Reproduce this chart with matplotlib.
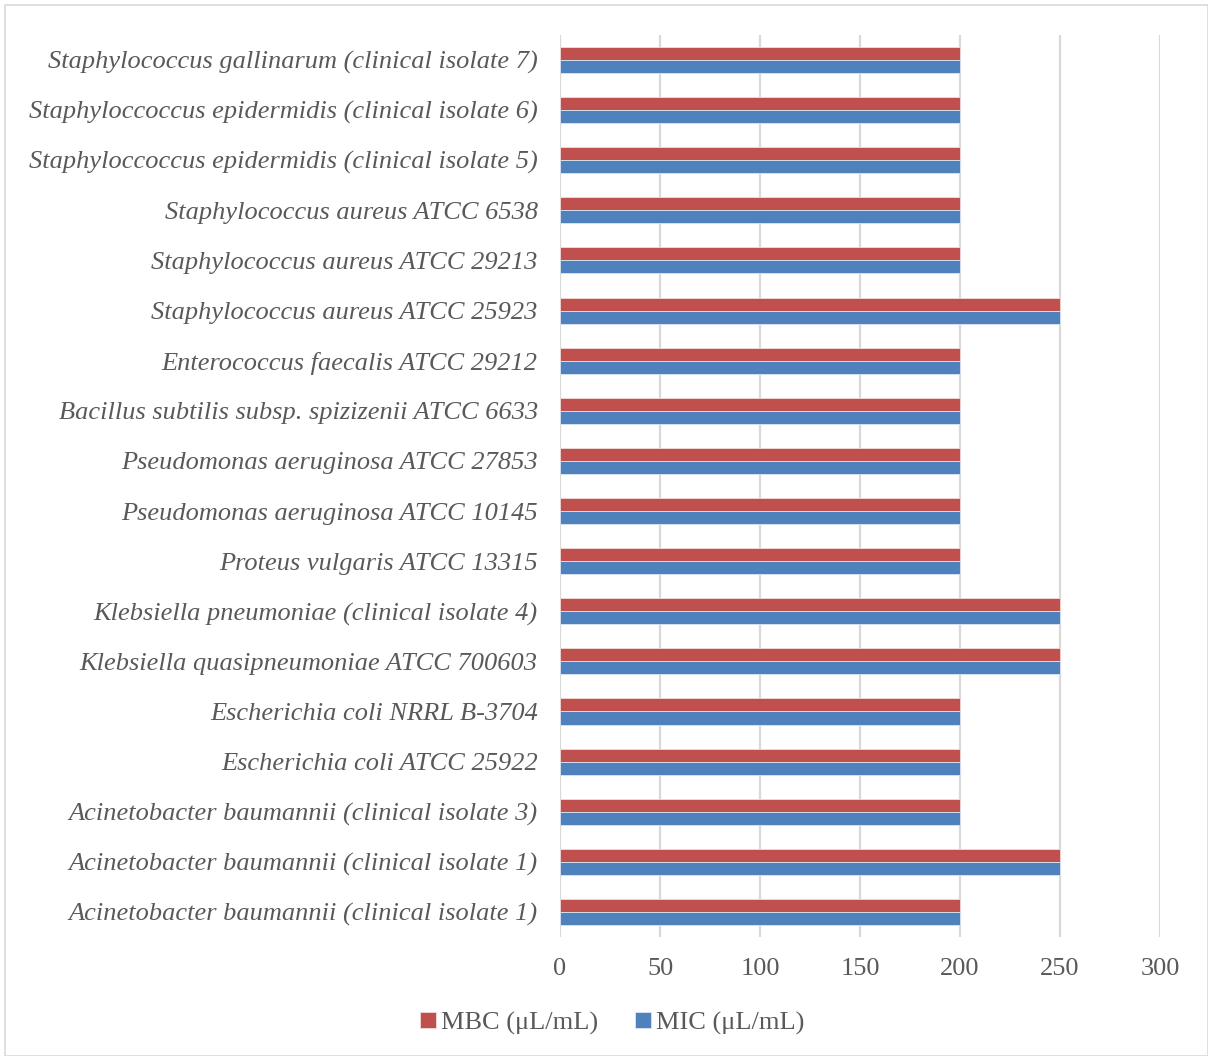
import numpy as np
import matplotlib.pyplot as plt
from matplotlib.patches import Rectangle

# Categories listed bottom to top, as drawn on the y axis
strains = [
    'Acinetobacter baumannii (clinical isolate 1)',
    'Acinetobacter baumannii (clinical isolate 1)',
    'Acinetobacter baumannii (clinical isolate 3)',
    'Escherichia coli ATCC 25922',
    'Escherichia coli NRRL B-3704',
    'Klebsiella quasipneumoniae ATCC 700603',
    'Klebsiella pneumoniae (clinical isolate 4)',
    'Proteus vulgaris ATCC 13315',
    'Pseudomonas aeruginosa ATCC 10145',
    'Pseudomonas aeruginosa ATCC 27853',
    'Bacillus subtilis subsp. spizizenii ATCC 6633',
    'Enterococcus faecalis ATCC 29212',
    'Staphylococcus aureus ATCC 25923',
    'Staphylococcus aureus ATCC 29213',
    'Staphylococcus aureus ATCC 6538',
    'Staphyloccoccus epidermidis (clinical isolate 5)',
    'Staphyloccoccus epidermidis (clinical isolate 6)',
    'Staphylococcus gallinarum (clinical isolate 7)',
]
mic = [200, 250, 200, 200, 200, 250, 250, 200, 200, 200, 200, 200, 250, 200, 200, 200, 200, 200]
mbc = [200, 250, 200, 200, 200, 250, 250, 200, 200, 200, 200, 200, 250, 200, 200, 200, 200, 200]
xticks = [0, 50, 100, 150, 200, 250, 300]

plt.rcParams['font.family'] = ['Liberation Serif', 'DejaVu Serif']

fig = plt.figure(figsize=(12.08, 10.56), dpi=100)
ax = fig.add_axes([0.4636, 0.1127, 0.4967, 0.8542])

y = np.arange(len(strains))
h = 0.26
ax.barh(y + h / 2, mbc, height=h, color='#C0504D', edgecolor='#f2dcdb', linewidth=0.6,
        label='MBC (μL/mL)', zorder=3)
ax.barh(y - h / 2, mic, height=h, color='#4F81BD', edgecolor='#dce6f2', linewidth=0.6,
        label='MIC (μL/mL)', zorder=3)

ax.set_ylim(-0.5, len(strains) - 0.5)
ax.set_xlim(0, 300)
ax.set_xticks(xticks)
ax.set_xticklabels([str(t) for t in xticks], fontsize=19, color='#595959')
ax.set_yticks(y)
ax.set_yticklabels(strains, fontsize=19, style='italic', color='#595959')
ax.tick_params(axis='both', length=0)
ax.tick_params(axis='y', pad=16)
ax.tick_params(axis='x', pad=15)
ax.xaxis.grid(True, color='#d9d9d9', linewidth=1.6, zorder=0)
for s in ax.spines.values():
    s.set_visible(False)

fig.legend(loc='center', bbox_to_anchor=(0.507, 0.031), ncol=2, frameon=False,
           fontsize=19, handlelength=0.6, handleheight=0.6, handletextpad=0.2,
           columnspacing=1.4, labelcolor='#595959')

fig.add_artist(Rectangle((0.004, 0.0), 0.996, 0.995, transform=fig.transFigure,
                         fill=False, edgecolor='#d9d9d9', linewidth=1.2))

fig.savefig('out.png', dpi=100)
